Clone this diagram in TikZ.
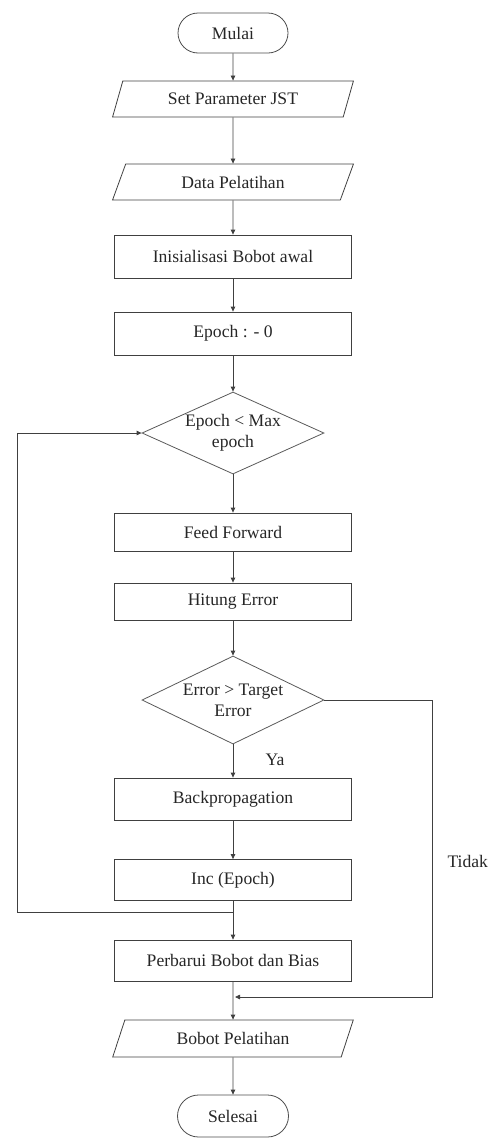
\documentclass[tikz,border=0pt]{standalone}
\usepackage{fontspec}
\setmainfont{Liberation Serif}
\usetikzlibrary{shapes.geometric,shapes.misc,arrows.meta}
\begin{document}
\begin{tikzpicture}[x=1pt,y=-1pt,
  every node/.style={font=\fontsize{17.6}{21}\selectfont, text=black!85},
  line/.style={draw=black!75, line width=0.8pt},
  arr/.style={line, -{Triangle[length=5pt,width=4.5pt]}},
  term/.style={rounded rectangle, draw=black!70, line width=0.8pt, minimum width=110pt, minimum height=40pt, inner sep=0pt},
  io/.style={trapezium, trapezium left angle=63, trapezium right angle=117, trapezium stretches=true, draw=black!75, line width=0.8pt, minimum width=241pt, minimum height=36pt, inner sep=0pt},
  proc/.style={rectangle, draw=black!75, line width=0.8pt, minimum width=237pt, minimum height=41pt, inner sep=0pt},
  dec/.style={diamond, draw=black!65, line width=0.8pt, aspect=2.2, inner sep=-6pt, minimum width=182pt, minimum height=82pt, align=center},
]
\useasboundingbox (0,0) rectangle (490,1138);
\node[term] (start) at (233,33) {Mulai};
\node[io] (set) at (233,99) {Set Parameter JST};
\node[io] (data) at (233,182) {Data Pelatihan};
\node[proc, minimum height=43pt] (init) at (233,256.5) {Inisialisasi Bobot awal};
\node[proc, minimum height=43pt] (ep0) at (233,333.5) {Epoch : - 0};
\node[dec] (d1) at (233,433) {Epoch < Max\\epoch};
\node[proc, minimum height=38pt] (ff) at (233,532) {Feed Forward};
\node[proc, minimum height=37pt] (he) at (233,601.5) {Hitung Error};
\node[dec, minimum height=88pt] (d2) at (233,700) {Error > Target\\Error};
\node[proc, minimum height=42pt] (bp) at (233,799) {Backpropagation};
\node[proc] (inc) at (233,880) {Inc (Epoch)};
\node[proc] (upd) at (233,960.5) {Perbarui Bobot dan Bias};
\node[io, minimum height=37pt] (out) at (233,1038.5) {Bobot Pelatihan};
\node[term, minimum width=111pt, minimum height=42pt] (end) at (233,1116) {Selesai};
\node (ya) at (275,760) {Ya};
\node[anchor=west] (tidak) at (444,861) {Tidak};

\coordinate (j1) at (233,912);
\coordinate (lb) at (17,912);
\coordinate (lt) at (17,433);
\coordinate (r1) at (432,700);
\coordinate (r2) at (432,997);
\coordinate (j2) at (235,997);

\draw[arr] (start.south) -- (set.north);
\draw[arr] (set.south) -- (data.north);
\draw[arr] (data.south) -- (init.north);
\draw[arr] (init.south) -- (ep0.north);
\draw[arr] (ep0.south) -- (d1.north);
\draw[arr] (d1.south) -- (ff.north);
\draw[arr] (ff.south) -- (he.north);
\draw[arr] (he.south) -- (d2.north);
\draw[arr] (d2.south) -- (bp.north);
\draw[arr] (bp.south) -- (inc.north);
\draw[line] (inc.south) -- (j1);
\draw[arr] (j1) -- (upd.north);
\draw[arr] (j1) -- (lb) -- (lt) -- (d1.west);
\draw[arr] (upd.south) -- (out.north);
\draw[arr] (d2.east) -- (r1) -- (r2) -- (j2);
\draw[arr] (out.south) -- (end.north);
\end{tikzpicture}
\end{document}
